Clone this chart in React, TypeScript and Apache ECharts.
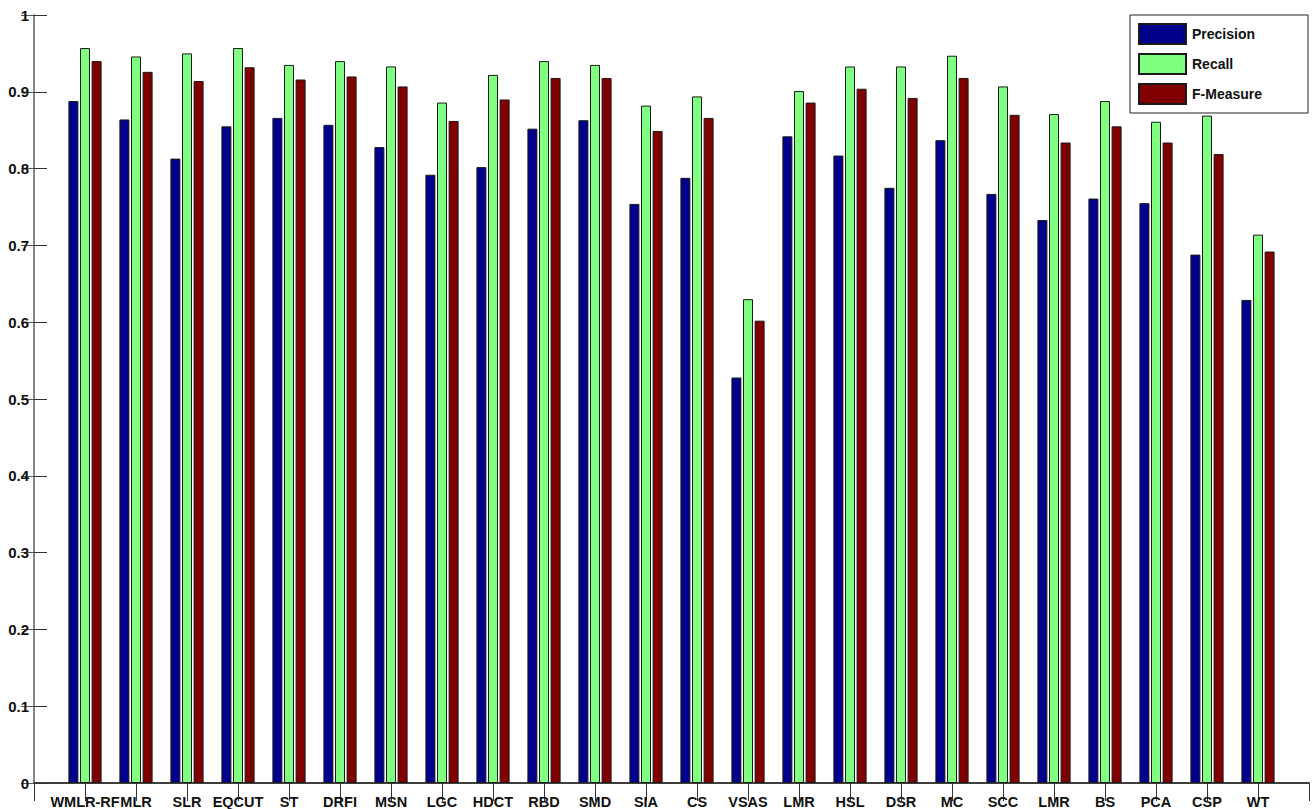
import React, { useEffect, useRef } from "react";
import * as echarts from "echarts";

// Methods compared, in the order they appear along the x axis
const categories = [
  "WMLR-RF", "MLR", "SLR", "EQCUT", "ST", "DRFI", "MSN", "LGC", "HDCT", "RBD", "SMD", "SIA",
  "CS", "VSAS", "LMR", "HSL", "DSR", "MC", "SCC", "LMR", "BS", "PCA", "CSP", "WT",
];

const precision = [
  0.888, 0.864, 0.813, 0.855, 0.866, 0.857, 0.828, 0.792, 0.802, 0.852, 0.863, 0.754,
  0.788, 0.528, 0.842, 0.817, 0.775, 0.837, 0.767, 0.733, 0.761, 0.755, 0.688, 0.629,
];
const recall = [
  0.957, 0.946, 0.950, 0.957, 0.935, 0.940, 0.933, 0.886, 0.922, 0.940, 0.935, 0.882,
  0.894, 0.630, 0.901, 0.933, 0.933, 0.947, 0.907, 0.871, 0.888, 0.861, 0.869, 0.714,
];
const fMeasure = [
  0.940, 0.926, 0.914, 0.932, 0.916, 0.920, 0.907, 0.862, 0.890, 0.918, 0.918, 0.849,
  0.866, 0.602, 0.886, 0.904, 0.892, 0.918, 0.870, 0.834, 0.855, 0.834, 0.819, 0.692,
];

const seriesNames = ["Precision", "Recall", "F-Measure"];
const seriesColors = ["#00008c", "#80ff80", "#800000"];

const FONT = "'Liberation Sans', Arial, Helvetica, sans-serif";

export default function App() {
  const ref = useRef<HTMLDivElement>(null);

  useEffect(() => {
    if (!ref.current) return;
    const chart = echarts.init(ref.current, null, { renderer: "svg" });

    // Groups sit at x = 1..24 on a 0..25 value axis
    const toPoints = (vals: number[]) => vals.map((v, i) => [i + 1, v]);
    const values = [precision, recall, fMeasure];

    const xLabel = (v: number) => {
      const idx = Math.round(v) - 1;
      return idx >= 0 && idx < categories.length ? categories[idx] : "";
    };

    const yLabel = (v: number) => {
      if (Math.abs(v) < 1e-9) return "0";
      if (Math.abs(v - 1) < 1e-9) return "1";
      return v.toFixed(1);
    };

    chart.setOption({
      animation: false,
      backgroundColor: "#ffffff",
      grid: { left: 34, right: 7, top: 15, bottom: 24, containLabel: false },
      legend: {
        data: seriesNames,
        orient: "vertical",
        left: 1130,
        top: 15,
        padding: [8, 46, 8, 8],
        itemWidth: 47,
        itemHeight: 20,
        itemGap: 8,
        icon: "rect",
        backgroundColor: "#ffffff",
        borderColor: "#222222",
        borderWidth: 1,
        textStyle: { fontFamily: FONT, fontWeight: "bold", fontSize: 14, color: "#111111", padding: [0, 0, 0, 1] },
      },
      xAxis: [
        {
          type: "value",
          min: 0,
          max: 25,
          interval: 1,
          position: "bottom",
          axisLine: { show: true, lineStyle: { color: "#333333", width: 1.5 } },
          axisTick: { show: true, inside: true, length: 18, lineStyle: { color: "#333333" } },
          axisLabel: {
            formatter: xLabel,
            margin: 11,
            fontFamily: FONT,
            fontWeight: "bold",
            fontSize: 14.5,
            color: "#111111",
            showMinLabel: false,
            showMaxLabel: false,
          },
          splitLine: { show: false },
        },
        {
          type: "value",
          min: 0,
          max: 25,
          interval: 1,
          position: "top",
          axisLine: { show: true, lineStyle: { color: "#333333", width: 1.5 } },
          axisTick: { show: true, inside: true, length: 18, lineStyle: { color: "#333333" } },
          axisLabel: { show: false },
          splitLine: { show: false },
        },
      ],
      yAxis: [
        {
          type: "value",
          min: 0,
          max: 1,
          interval: 0.1,
          position: "left",
          axisLine: { show: true, lineStyle: { color: "#999999", width: 1.5 } },
          axisTick: { show: true, inside: true, length: 13, lineStyle: { color: "#333333" } },
          axisLabel: {
            formatter: yLabel,
            margin: 5,
            fontFamily: FONT,
            fontWeight: "bold",
            fontSize: 15,
            color: "#111111",
          },
          splitLine: { show: false },
        },
        {
          type: "value",
          min: 0,
          max: 1,
          interval: 0.1,
          position: "right",
          axisLine: { show: true, lineStyle: { color: "#777777", width: 1.5 } },
          axisTick: { show: true, inside: true, length: 13, lineStyle: { color: "#555555" } },
          axisLabel: { show: false },
          splitLine: { show: false },
        },
      ],
      series: seriesNames.map((name, k) => ({
        name,
        type: "bar",
        xAxisIndex: 0,
        yAxisIndex: 0,
        data: toPoints(values[k]),
        barWidth: 10,
        barGap: "16%",
        itemStyle: { color: seriesColors[k], borderColor: "#1a1a1a", borderWidth: 1 },
      })),
    });

    return () => chart.dispose();
  }, []);

  return (
    <div
      ref={ref}
      style={{ position: "fixed", left: 0, top: 0, width: 1316, height: 809, background: "#fff" }}
    />
  );
}
